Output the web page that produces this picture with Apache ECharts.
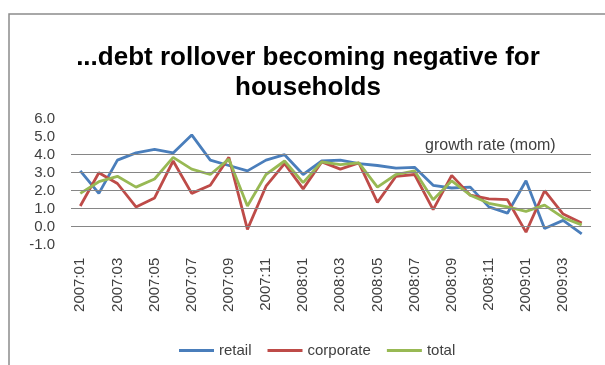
<!DOCTYPE html>
<html>
<head>
<meta charset="utf-8">
<script src="https://cdn.jsdelivr.net/npm/echarts@6/dist/echarts.min.js"></script>
<style>html,body{margin:0;padding:0;background:#fff;}#c{width:605px;height:365px;}</style>
</head>
<body>
<div id="c"></div>
<script>
const titleText = '...debt rollover becoming negative for\nhouseholds';
const noteText = 'growth rate (mom)';
const months = ['2007:01','2007:02','2007:03','2007:04','2007:05','2007:06','2007:07','2007:08','2007:09','2007:10','2007:11','2007:12',
  '2008:01','2008:02','2008:03','2008:04','2008:05','2008:06','2008:07','2008:08','2008:09','2008:10','2008:11','2008:12',
  '2009:01','2009:02','2009:03','2009:04'];
const retail = [3.1, 1.85, 3.7, 4.1, 4.3, 4.1, 5.1, 3.7, 3.4, 3.1, 3.7, 4.0, 2.9, 3.65, 3.7, 3.5, 3.4, 3.25, 3.3, 2.3, 2.15, 2.2, 1.1, 0.75, 2.55, -0.1, 0.35, -0.4];
const corporate = [1.15, 3.0, 2.4, 1.1, 1.6, 3.65, 1.85, 2.3, 3.85, -0.15, 2.25, 3.5, 2.1, 3.6, 3.2, 3.55, 1.35, 2.8, 2.9, 0.95, 2.85, 1.75, 1.55, 1.5, -0.3, 2.0, 0.7, 0.2];
const total = [1.85, 2.5, 2.8, 2.2, 2.65, 3.85, 3.2, 2.9, 3.75, 1.15, 2.9, 3.65, 2.45, 3.6, 3.45, 3.55, 2.2, 2.9, 3.1, 1.5, 2.55, 1.75, 1.3, 1.1, 0.85, 1.2, 0.5, 0.1];
const seriesNames = ['retail', 'corporate', 'total'];
const gridValues = [0, 1, 2, 3, 4];
const yMin = -1, yMax = 6, yStep = 1;

const colors = ['#4A7EBB', '#BE4B48', '#98B954'];
const font = 'Liberation Sans';
const chart = echarts.init(document.getElementById('c'), null, {renderer: 'canvas'});
const lineSeries = [retail, corporate, total].map((d, i) => ({
  name: seriesNames[i], type: 'line', data: d, symbol: 'none', z: 3,
  lineStyle: {color: colors[i], width: 2.8}, itemStyle: {color: colors[i]}
}));
chart.setOption({
  animation: false,
  backgroundColor: '#fff',
  textStyle: {fontFamily: font},
  grid: {left: 71, right: 14, top: 118.7, height: 126, containLabel: false},
  legend: {
    data: seriesNames, left: 174, top: 338, icon: 'rect', itemWidth: 35, itemHeight: 3, itemGap: 16,
    textStyle: {fontSize: 15, color: '#404040', fontFamily: font}
  },
  xAxis: {
    type: 'category', data: months, boundaryGap: true,
    axisLine: {show: false}, axisTick: {show: false}, splitLine: {show: false},
    axisLabel: {interval: 1, rotate: 90, margin: 13, fontSize: 15, color: '#404040', fontFamily: font}
  },
  yAxis: {
    type: 'value', min: yMin, max: yMax, interval: yStep,
    axisLine: {show: false}, axisTick: {show: false}, splitLine: {show: false},
    axisLabel: {margin: 16, fontSize: 15, color: '#404040', fontFamily: font, formatter: v => v.toFixed(1)}
  },
  graphic: [
    {type: 'rect', shape: {x: 9, y: 14, width: 700, height: 500}, style: {fill: 'none', stroke: '#8c8c8c', lineWidth: 1.5}, z: 0},
    {type: 'text', x: 308, y: 43, style: {text: titleText, fill: '#000', fontSize: 26, fontWeight: 'bold', fontFamily: font, align: 'center', verticalAlign: 'top', lineHeight: 30}},
    {type: 'text', x: 425, y: 146, style: {text: noteText, fill: '#404040', fontSize: 16, fontFamily: font, align: 'left', verticalAlign: 'middle'}}
  ],
  series: [
    {name: 'grid', type: 'line', data: [], z: 1,
      markLine: {silent: true, symbol: ['none', 'none'], label: {show: false}, animation: false,
        lineStyle: {color: '#868686', width: 1, type: 'solid'},
        data: gridValues.map(v => ({yAxis: v}))}}
  ].concat(lineSeries)
});
</script>
</body>
</html>
